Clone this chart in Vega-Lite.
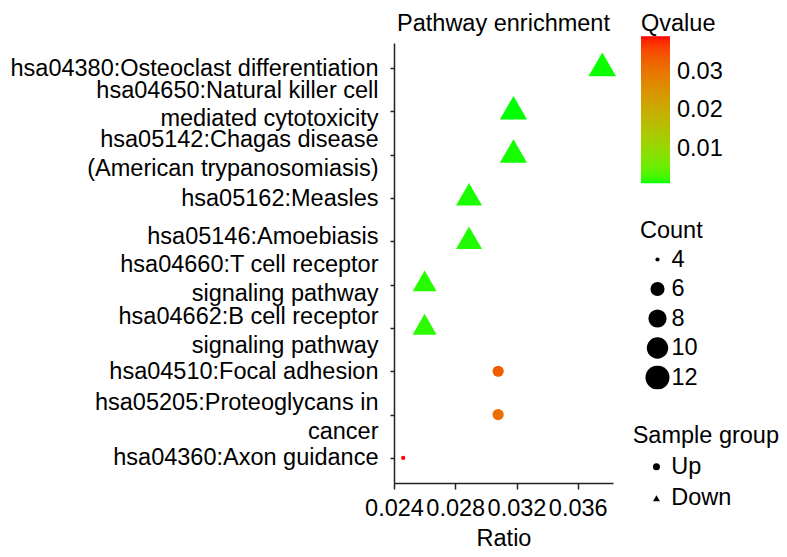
{
  "$schema": "https://vega.github.io/schema/vega-lite/v6.json",
  "width": 219,
  "height": 440,
  "autosize": {"type": "none"},
  "padding": {"left": 394, "top": 43, "right": 174, "bottom": 74},
  "background": "white",
  "config": {
    "font": "Liberation Sans",
    "view": {"stroke": null},
    "axis": {
      "grid": false,
      "domainColor": "#222222",
      "domainWidth": 1.5,
      "tickColor": "#222222",
      "tickWidth": 1.5,
      "labelColor": "black",
      "titleColor": "black",
      "labelFontSize": 23.5,
      "titleFontSize": 23.5,
      "titleFontWeight": "normal"
    },
    "legend": {
      "labelColor": "black",
      "titleColor": "black",
      "labelFontSize": 23.5,
      "titleFontSize": 23.5,
      "titleFontWeight": "normal",
      "padding": 0
    }
  },
  "title": {
    "text": "Pathway enrichment",
    "fontSize": 23.5,
    "fontWeight": "normal",
    "color": "black",
    "anchor": "middle",
    "frame": "group",
    "baseline": "alphabetic",
    "offset": 14.7,
    "dy": 57.5
  },
  "data": {
    "values": [
      {"term": "hsa04380:Osteoclast differentiation", "ratio": 0.0376, "count": 13, "qvalue": 0.0013, "group": "Down"},
      {"term": "hsa04650:Natural killer cell|mediated cytotoxicity", "ratio": 0.0318, "count": 11, "qvalue": 0.0012, "group": "Down"},
      {"term": "hsa05142:Chagas disease|(American trypanosomiasis)", "ratio": 0.0318, "count": 11, "qvalue": 0.0014, "group": "Down"},
      {"term": "hsa05162:Measles", "ratio": 0.0289, "count": 10, "qvalue": 0.0015, "group": "Down"},
      {"term": "hsa05146:Amoebiasis", "ratio": 0.0289, "count": 10, "qvalue": 0.0016, "group": "Down"},
      {"term": "hsa04660:T cell receptor|signaling pathway", "ratio": 0.026, "count": 9, "qvalue": 0.0018, "group": "Down"},
      {"term": "hsa04662:B cell receptor|signaling pathway", "ratio": 0.026, "count": 9, "qvalue": 0.0019, "group": "Down"},
      {"term": "hsa04510:Focal adhesion", "ratio": 0.0308, "count": 5, "qvalue": 0.0335, "group": "Up"},
      {"term": "hsa05205:Proteoglycans in|cancer", "ratio": 0.0308, "count": 5, "qvalue": 0.0312, "group": "Up"},
      {"term": "hsa04360:Axon guidance", "ratio": 0.0246, "count": 4, "qvalue": 0.0392, "group": "Up"}
    ]
  },
  "encoding": {
    "y": {
      "field": "term",
      "type": "nominal",
      "sort": [
        "hsa04380:Osteoclast differentiation",
        "hsa04650:Natural killer cell|mediated cytotoxicity",
        "hsa05142:Chagas disease|(American trypanosomiasis)",
        "hsa05162:Measles",
        "hsa05146:Amoebiasis",
        "hsa04660:T cell receptor|signaling pathway",
        "hsa04662:B cell receptor|signaling pathway",
        "hsa04510:Focal adhesion",
        "hsa05205:Proteoglycans in|cancer",
        "hsa04360:Axon guidance"
      ],
      "scale": {"padding": 0.58},
      "axis": {
        "title": null,
        "labelExpr": "split(datum.label, '|')",
        "labelLineHeight": 28.5,
        "labelPadding": 12,
        "labelLimit": 0,
        "tickSize": 4,
        "labelOffset": {
          "condition": [
            {"test": "indexof(datum.value, 'hsa04650') === 0", "value": -21},
            {"test": "indexof(datum.value, 'hsa05142') === 0", "value": -15},
            {"test": "indexof(datum.value, 'hsa05146') === 0", "value": -5},
            {"test": "indexof(datum.value, 'hsa04660') === 0", "value": -20},
            {"test": "indexof(datum.value, 'hsa04662') === 0", "value": -11},
            {"test": "indexof(datum.value, 'hsa05205') === 0", "value": -12}
          ],
          "value": 0
        }
      }
    },
    "x": {
      "field": "ratio",
      "type": "quantitative",
      "scale": {"domain": [0.024, 0.0383], "nice": false, "zero": false},
      "axis": {
        "title": "Ratio",
        "values": [0.024, 0.028, 0.032, 0.036],
        "format": ".3f",
        "tickSize": 6,
        "labelPadding": 7,
        "titlePadding": 7,
        "labelFlush": false
      }
    },
    "color": {
      "field": "qvalue",
      "type": "quantitative",
      "scale": {"domain": [0.0012, 0.0392], "range": ["#00FF00", "#FF0000"], "interpolate": "lab", "zero": false, "nice": false},
      "legend": {
        "title": "Qvalue",
        "type": "gradient",
        "orient": "none",
        "legendX": 247,
        "legendY": -31.3,
        "direction": "vertical",
        "gradientLength": 147,
        "gradientThickness": 29,
        "gradientStrokeWidth": 0,
        "values": [0.01, 0.02, 0.03],
        "format": ".2f",
        "titlePadding": 1,
        "labelOffset": 7
      }
    },
    "shape": {
      "field": "group",
      "type": "nominal",
      "scale": {"domain": ["Up", "Down"], "range": ["circle", "triangle-up"]},
      "legend": {
        "title": "Sample group",
        "orient": "none",
        "legendX": 238.7,
        "legendY": 380.5,
        "symbolSize": 49,
        "rowPadding": 6.5,
        "titlePadding": 8,
        "symbolOffset": 12,
        "labelOffset": 3,
        "encode": {
          "symbols": {
            "update": {
              "fill": {"value": "black"},
              "stroke": {"value": "black"},
              "strokeWidth": {"value": 0},
              "opacity": {"value": 1}
            }
          }
        }
      }
    }
  },
  "layer": [
    {
      "transform": [{"filter": "datum.group === 'Up'"}],
      "mark": {"type": "point", "filled": true, "opacity": 1},
      "encoding": {
        "size": {
          "field": "count",
          "type": "quantitative",
          "scale": {"domain": [4, 5, 6, 8, 10, 12, 13], "range": [17.6, 125, 199, 331, 456, 576, 635], "zero": false, "nice": false},
          "legend": {
            "title": "Count",
            "values": [4, 6, 8, 10, 12],
            "orient": "none",
            "legendX": 246,
            "legendY": 176,
            "symbolType": "circle",
            "clipHeight": 24,
            "rowPadding": 5.5,
            "titlePadding": 5,
            "symbolOffset": 4.5,
            "labelOffset": 1,
            "encode": {
              "symbols": {
                "update": {
                  "fill": {"value": "black"},
                  "stroke": {"value": "black"},
                  "strokeWidth": {"value": 0},
                  "opacity": {"value": 1}
                }
              }
            }
          }
        }
      }
    },
    {
      "transform": [{"filter": "datum.group === 'Down'"}],
      "mark": {"type": "point", "filled": true, "opacity": 1, "yOffset": -3.7},
      "encoding": {
        "size": {
          "field": "count",
          "type": "quantitative",
          "scale": {"domain": [9, 10, 11, 13], "range": [576, 676, 740, 760], "zero": false, "nice": false},
          "legend": null
        }
      }
    }
  ],
  "resolve": {"scale": {"size": "independent"}}
}
